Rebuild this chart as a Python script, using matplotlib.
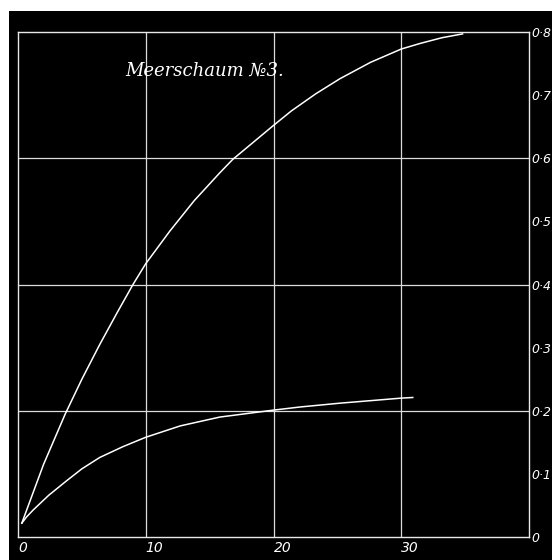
import matplotlib
matplotlib.use('Agg')
import matplotlib.pyplot as plt
from matplotlib.patches import Rectangle

# curve readings (x, y) taken off the plate
upper_x = [0.3, 2.0, 3.7, 5.0, 6.4, 7.75, 9.0, 10.0, 11.9, 13.8, 15.8, 16.8, 20.0,
           21.4, 23.3, 25.2, 27.6, 30.0, 31.5, 33.2, 34.8]
upper_y = [0.022, 0.115, 0.195, 0.250, 0.305, 0.355, 0.400, 0.433, 0.485, 0.533, 0.577,
           0.598, 0.652, 0.675, 0.702, 0.726, 0.752, 0.773, 0.782, 0.791, 0.797]

lower_x = [0.3, 0.68, 1.2, 2.4, 3.8, 5.0, 6.4, 8.2, 10.0, 12.7, 15.8, 20.0, 22.1,
           25.2, 30.0, 30.9]
lower_y = [0.022, 0.032, 0.043, 0.066, 0.089, 0.108, 0.126, 0.143, 0.158, 0.176,
           0.190, 0.201, 0.206, 0.212, 0.220, 0.221]

x_ticks = [0, 10, 20, 30]
x_labels = ['0', '10', '20', '30']
y_ticks = [0, 0.1, 0.2, 0.3, 0.4, 0.5, 0.6, 0.7, 0.8]
y_labels = ['0', '0·1', '0·2', '0·3', '0·4', '0·5', '0·6', '0·7', '0·8']
x_grid = [10, 20, 30]
y_grid = [0.2, 0.4, 0.6]
title = 'Meerschaum №3.'

fig = plt.figure(figsize=(5.52, 5.60), dpi=100)
fig.patch.set_facecolor('white')
# black plate behind the chart
fig.patches.append(Rectangle((9 / 552, 0), 1 - 9 / 552, (560 - 10.5) / 560,
                             transform=fig.transFigure, facecolor='black',
                             edgecolor='none', zorder=-10))

ax = fig.add_axes([18 / 552, 1 - 537 / 560, 511 / 552, 505 / 560])
ax.set_facecolor('black')
ax.set_xlim(0, 40)
ax.set_ylim(0, 0.8)

for s in ax.spines.values():
    s.set_color('#e8e8e8')
    s.set_linewidth(1.0)

for gx in x_grid:
    ax.axvline(gx, color='#dcdcdc', lw=0.9)
for gy in y_grid:
    ax.axhline(gy, color='#dcdcdc', lw=0.9)

ax.plot(upper_x, upper_y, color='white', lw=1.1)
ax.plot(lower_x, lower_y, color='white', lw=1.1)

ax.set_xticks(x_ticks)
ax.set_xticklabels(x_labels, fontstyle='italic', fontsize=10, color='white',
                   family='DejaVu Sans')
for lab in ax.get_xticklabels():
    lab.set_horizontalalignment('left')
ax.set_yticks(y_ticks)
ax.set_yticklabels(y_labels, fontstyle='italic', fontsize=9, color='white',
                   family='DejaVu Sans')
ax.tick_params(axis='x', length=0, pad=3)
ax.tick_params(axis='y', left=False, right=False, labelleft=False,
               labelright=True, length=0, pad=1.5)

ax.text(8.4, 0.73, title, fontsize=13, fontstyle='italic', color='white',
        family=['DejaVu Serif'], va='baseline', ha='left')

fig.savefig('out.png', dpi=100, facecolor=fig.get_facecolor())
